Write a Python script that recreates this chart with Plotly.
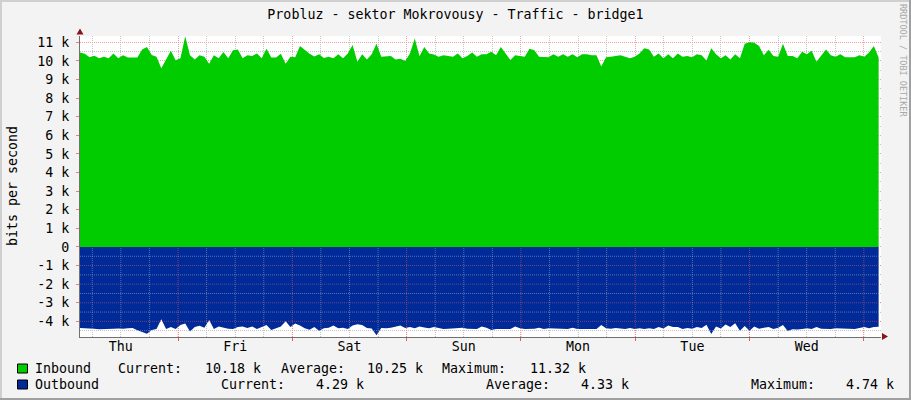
import plotly.graph_objects as go

# hourly averages, bits per second in k
inbound_k = [
    10.45, 10.38, 10.20, 10.28, 10.14, 10.22, 10.14, 10.40, 10.14, 10.30,
    10.18, 10.16, 10.18, 10.62, 10.75, 10.32, 10.23, 9.60, 10.08, 10.55,
    10.03, 10.14, 11.32, 10.30, 10.08, 10.30, 10.22, 9.85, 10.30, 10.14,
    10.48, 10.14, 10.58, 10.62, 10.14, 10.30, 10.26, 10.40, 10.14, 10.66,
    10.18, 10.18, 10.38, 9.85, 10.22, 10.20, 10.80, 10.60, 10.38, 10.24,
    10.36, 10.16, 10.22, 10.14, 10.36, 10.14, 10.40, 10.85, 9.95, 10.36,
    10.08, 10.36, 10.92, 10.23, 10.26, 10.27, 10.08, 10.12, 10.00, 10.40,
    11.20, 10.25, 10.75, 10.40, 10.35, 10.23, 10.30, 10.26, 10.23, 10.40,
    10.14, 10.26, 10.45, 10.23, 10.36, 10.36, 10.50, 10.30, 10.75, 10.40,
    10.05, 10.30, 10.26, 10.23, 10.66, 10.58, 10.23, 10.22, 10.20, 10.36,
    10.23, 10.36, 10.22, 10.36, 10.20, 10.36, 10.36, 10.30, 10.30, 9.70,
    10.20, 10.23, 10.26, 10.30, 10.23, 10.14, 10.23, 10.40, 10.68, 10.62,
    10.23, 10.40, 10.14, 10.36, 10.14, 10.40, 10.23, 10.26, 10.20, 10.36,
    10.30, 10.02, 10.68, 10.36, 10.14, 10.30, 10.08, 10.36, 10.14, 10.92,
    11.00, 10.98, 10.80, 10.30, 10.60, 10.26, 10.23, 10.92, 10.26, 10.26,
    10.14, 10.50, 10.36, 10.55, 9.96, 10.30, 10.62, 10.30, 10.23, 10.36,
    10.20, 10.20, 10.20, 10.30, 10.23, 10.45, 10.80, 10.18,
]
outbound_k = [
    4.36, 4.36, 4.38, 4.40, 4.43, 4.43, 4.42, 4.40, 4.38, 4.40,
    4.37, 4.36, 4.48, 4.55, 4.66, 4.46, 4.41, 3.88, 4.41, 4.30,
    4.41, 4.20, 4.12, 4.55, 4.30, 4.24, 4.34, 3.92, 4.41, 4.28,
    4.34, 4.40, 4.41, 4.30, 4.28, 4.36, 4.28, 4.41, 4.30, 4.20,
    4.46, 4.37, 4.28, 4.00, 4.30, 4.12, 4.22, 4.37, 4.45, 4.30,
    4.50, 4.37, 4.34, 4.22, 4.37, 4.34, 4.41, 4.22, 4.15, 4.20,
    4.36, 4.38, 4.74, 4.35, 4.37, 4.34, 4.30, 4.22, 4.36, 4.30,
    4.37, 4.28, 4.33, 4.37, 4.30, 4.34, 4.41, 4.40, 4.37, 4.37,
    4.34, 4.40, 4.41, 4.41, 4.28, 4.34, 4.46, 4.41, 4.41, 4.41,
    4.41, 4.28, 4.37, 4.41, 4.41, 4.40, 4.34, 4.41, 4.37, 4.37,
    4.41, 4.40, 4.41, 4.34, 4.41, 4.41, 4.41, 4.40, 4.41, 4.20,
    4.37, 4.40, 4.36, 4.38, 4.41, 4.36, 4.41, 4.37, 4.41, 4.37,
    4.41, 4.30, 4.38, 4.22, 4.30, 4.30, 4.41, 4.36, 4.40, 4.30,
    4.36, 4.18, 4.68, 4.28, 4.38, 4.17, 4.30, 4.10, 4.50, 4.25,
    4.50, 4.28, 4.40, 4.34, 4.30, 4.41, 4.34, 4.20, 4.52, 4.42,
    4.44, 4.41, 4.37, 4.41, 4.30, 4.40, 4.41, 4.41, 4.37, 4.38,
    4.41, 4.41, 4.41, 4.36, 4.30, 4.37, 4.30, 4.29,
]

# time axis: hours since Thursday 00:00
start_h = 3.42
end_h = 171.1
days = ["Thu", "Fri", "Sat", "Sun", "Mon", "Tue", "Wed"]
y_ticks = [11, 10, 9, 8, 7, 6, 5, 4, 3, 2, 1, 0, -1, -2, -3, -4]

legend_rows = [
    ("Inbound", "#00CC00", ["Current:", "10.18 k", "Average:", "10.25 k", "Maximum:", "11.32 k"]),
    ("Outbound", "#002A97", ["Current:", "4.29 k", "Average:", "4.33 k", "Maximum:", "4.74 k"]),
]

n = len(inbound_k)
step = (end_h - start_h) / (n - 1)
hours = [start_h + i * step for i in range(n)]

noon = [24 * d + 12 for d in range(len(days))]
midnight = [24 * (d + 1) for d in range(len(days))]
six_h = [h for h in range(6, 172, 6) if h % 24 != 0 and h % 24 != 12]
half_k = [v + 0.5 for v in range(-5, 11)]

# plot box in pixels
L, T, W, H = 80, 36, 801, 301
FIG_W, FIG_H = 911, 400


def px(x):
    return (x - L) / W


def py(y):
    return (T + H - y) / H


MONO = "DejaVu Sans Mono"
RED_GRID = "#f2a0a0"
GRAY_GRID = "#c4c4c4"

fig = go.Figure()
fig.add_trace(go.Scatter(x=hours, y=inbound_k, mode="lines", line=dict(width=0),
                         fill="tozeroy", fillcolor="#00CC00", hoverinfo="skip", showlegend=False))
fig.add_trace(go.Scatter(x=hours, y=[-v for v in outbound_k], mode="lines",
                         line=dict(width=0),
                         fill="tozeroy", fillcolor="#002A97", hoverinfo="skip", showlegend=False))
fig.add_trace(go.Scatter(x=[], y=[], xaxis="x2", showlegend=False, hoverinfo="skip"))

shapes = []
# grid shows through the outbound area
y_low = -4.84
for h in six_h + noon:
    shapes.append(dict(type="line", xref="x", yref="y", x0=h, x1=h, y0=y_low, y1=0, layer="above",
                       line=dict(color="rgba(200,200,200,0.45)", width=1, dash="1px,1px")))
for h in midnight:
    shapes.append(dict(type="line", xref="x", yref="y", x0=h, x1=h, y0=y_low, y1=0, layer="above",
                       line=dict(color="rgba(255,95,95,0.5)", width=1, dash="1px,1px")))
for v in half_k + y_ticks:
    if -4.84 < v < 0:
        col = "rgba(255,95,95,0.45)" if v == int(v) else "rgba(200,200,200,0.45)"
        shapes.append(dict(type="line", xref="paper", yref="y", x0=0, x1=1, y0=v, y1=v, layer="above",
                           line=dict(color=col, width=1, dash="1px,1px")))

# axis arrows
shapes.append(dict(type="path", xref="paper", yref="paper", fillcolor="#8b1414", line=dict(width=0),
                   path="M %f,%f L %f,%f L %f,%f Z" % (px(76.5), py(34.5), px(83.5), py(34.5), px(80), py(28.5))))
shapes.append(dict(type="path", xref="paper", yref="paper", fillcolor="#8b1414", line=dict(width=0),
                   path="M %f,%f L %f,%f L %f,%f Z" % (px(882), py(333), px(882), py(340), px(888), py(336.5))))

# canvas frame
shapes.append(dict(type="line", xref="paper", yref="paper", x0=px(0), x1=px(FIG_W), y0=py(1), y1=py(1),
                   line=dict(color="#cfcfcf", width=2)))
shapes.append(dict(type="line", xref="paper", yref="paper", x0=px(1), x1=px(1), y0=py(0), y1=py(FIG_H),
                   line=dict(color="#cfcfcf", width=2)))
shapes.append(dict(type="line", xref="paper", yref="paper", x0=px(0), x1=px(FIG_W), y0=py(FIG_H - 1), y1=py(FIG_H - 1),
                   line=dict(color="#a0a0a0", width=2)))
shapes.append(dict(type="line", xref="paper", yref="paper", x0=px(FIG_W - 1), x1=px(FIG_W - 1), y0=py(0), y1=py(FIG_H),
                   line=dict(color="#a0a0a0", width=2)))

annotations = []
annotations.append(dict(text="bits per second", textangle=-90, xref="paper", yref="paper",
                        x=px(12), y=py(186), xanchor="center", yanchor="middle", showarrow=False,
                        font=dict(family=MONO, size=13.3, color="black")))
annotations.append(dict(text="RRDTOOL / TOBI OETIKER", textangle=90, xref="paper", yref="paper",
                        x=px(903), y=py(60), xanchor="center", yanchor="middle", showarrow=False,
                        font=dict(family=MONO, size=8.5, color="#a8a8a8")))

# legend, laid out the way rrdtool justifies it
legend_x = [
    [116, 203, 279, 365, 440, 528],
    [219, 314, 484, 579, 749, 844],
]
legend_y = [368.5, 384.5]
for r, (name, color, items) in enumerate(legend_rows):
    yc = legend_y[r]
    shapes.append(dict(type="rect", xref="paper", yref="paper", x0=px(17.5), x1=px(27.5),
                       y0=py(yc - 4.5), y1=py(yc + 4.5), fillcolor=color,
                       line=dict(color="black", width=1)))
    annotations.append(dict(text=name, xref="paper", yref="paper", x=px(33), y=py(yc),
                            xanchor="left", yanchor="middle", showarrow=False,
                            font=dict(family=MONO, size=13.3, color="black")))
    for txt, xx in zip(items, legend_x[r]):
        annotations.append(dict(text=txt, xref="paper", yref="paper", x=px(xx), y=py(yc),
                                xanchor="left", yanchor="middle", showarrow=False,
                                font=dict(family=MONO, size=13.3, color="black")))

fig.update_layout(
    width=FIG_W, height=FIG_H,
    margin=dict(l=L, r=FIG_W - L - W, t=T, b=FIG_H - T - H, pad=0),
    paper_bgcolor="#f3f3f3", plot_bgcolor="white",
    title=dict(text="Probluz - sektor Mokrovousy - Traffic - bridge1", x=0.5, xanchor="center",
               y=1 - 14 / FIG_H, yanchor="middle", font=dict(family=MONO, size=13.3, color="black")),
    font=dict(family=MONO, size=13.3, color="black"),
    showlegend=False,
    xaxis=dict(range=[start_h, 171.6], tickmode="array", tickvals=midnight, showticklabels=False,
               ticks="outside", ticklen=3, tickcolor="#e06060",
               showgrid=True, gridcolor=RED_GRID, gridwidth=1, griddash="1px,1px",
               minor=dict(tickmode="array", tickvals=six_h + noon, showgrid=True, gridcolor=GRAY_GRID,
                          griddash="1px,1px", ticks=""),
               showline=True, linecolor="#707070", linewidth=1, zeroline=False, fixedrange=True),
    xaxis2=dict(overlaying="x", matches="x", side="bottom", anchor="y", range=[start_h, 171.6],
                tickmode="array", tickvals=noon, ticktext=days, ticks="", showgrid=False,
                showline=False, zeroline=False, tickfont=dict(family=MONO, size=13.3, color="black")),
    yaxis=dict(range=[-4.84, 11.34], tickmode="array", tickvals=y_ticks,
               ticktext=["0" if v == 0 else "%d k" % v for v in y_ticks],
               ticks="outside", ticklen=3, tickcolor="#e08080", ticklabelstandoff=4,
               showgrid=True, gridcolor=RED_GRID, gridwidth=1, griddash="1px,1px",
               minor=dict(tickmode="array", tickvals=half_k, showgrid=True, gridcolor=GRAY_GRID,
                          griddash="1px,1px", ticks=""),
               showline=True, linecolor="#707070", linewidth=1, zeroline=False, fixedrange=True,
               tickfont=dict(family=MONO, size=13.3, color="black")),
    shapes=shapes,
    annotations=annotations,
)

fig.write_html("out.html", config={"displayModeBar": False},
               post_script="document.body.style.margin='0px';")
